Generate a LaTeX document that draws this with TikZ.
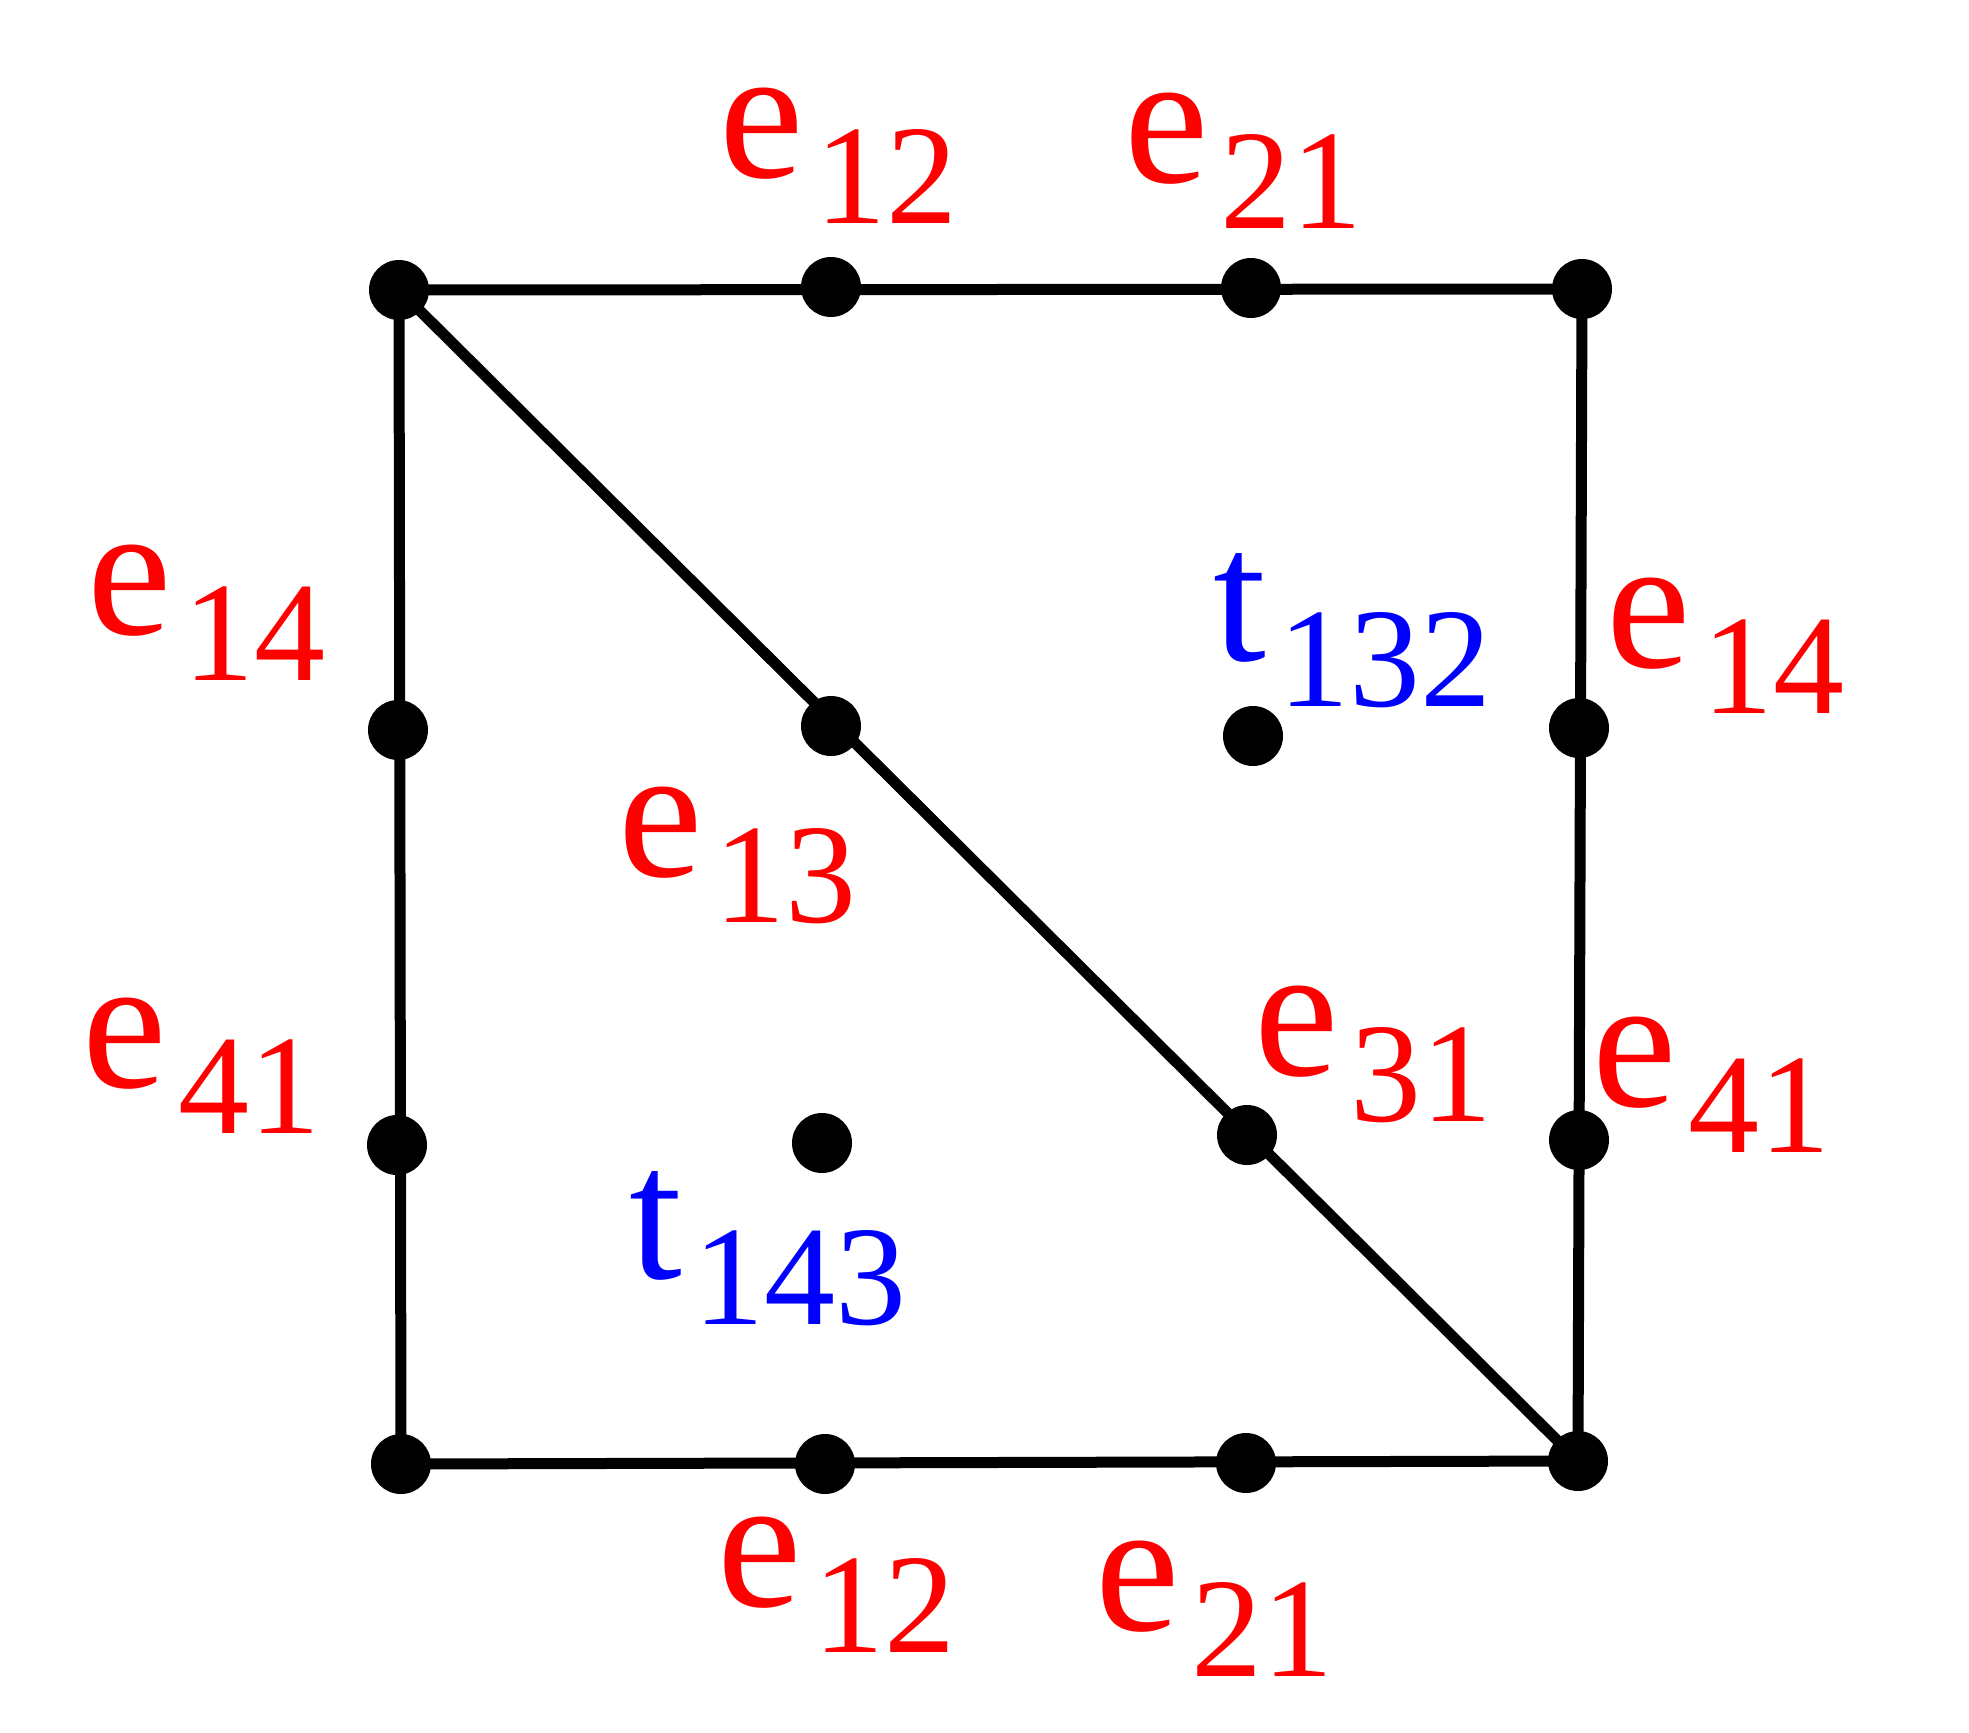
\documentclass[tikz,border=0pt]{standalone}
\usepackage{fontspec}
\setmainfont{Liberation Serif}
\definecolor{lblred}{RGB}{255,0,0}
\definecolor{lblblue}{RGB}{0,0,255}
\newcommand{\lbl}[2]{{\fontsize{190}{190}\selectfont #1}\kern12pt\raisebox{-46pt}{\fontsize{142}{142}\selectfont #2}}
\tikzset{
  edge/.style={line width=11pt, black},
  dotmark/.style={circle, fill=black, minimum size=60pt, inner sep=0pt},
  elabel/.style={anchor=base west, inner sep=0pt, text=lblred},
  tlabel/.style={anchor=base west, inner sep=0pt, text=lblblue},
}
\begin{document}
\begin{tikzpicture}[x=1pt,y=-1pt]
\useasboundingbox (0,0) rectangle (1969,1732);
% corners and mid points
\coordinate (TL) at (399,290);
\coordinate (TR) at (1582,289);
\coordinate (BL) at (401,1464);
\coordinate (BR) at (1578,1461);
\coordinate (T1) at (831,287);
\coordinate (T2) at (1251,288);
\coordinate (L1) at (398,730);
\coordinate (L2) at (397,1145);
\coordinate (R1) at (1579,728);
\coordinate (R2) at (1579,1140);
\coordinate (B1) at (825,1464);
\coordinate (B2) at (1246,1463);
\coordinate (D1) at (831,726);
\coordinate (D2) at (1247,1135);
\coordinate (C1) at (1253,736);
\coordinate (C2) at (822,1143);
% edges
\draw[edge] (TL) -- (TR);
\draw[edge] (BL) -- (BR);
\draw[edge] (TL) -- (BL);
\draw[edge] (TR) -- (BR);
\draw[edge] (TL) -- (BR);
% dots
\foreach \p in {TL,TR,BL,BR,T1,T2,L1,L2,R1,R2,B1,B2,D1,D2,C1,C2}
  \node[dotmark] (dot\p) at (\p) {};
% labels
\node[elabel] (e12t) at (719,177) {\lbl{e}{12}};
\node[elabel] (e21t) at (1124,182) {\lbl{e}{21}};
\node[elabel] (e14l) at (87,634) {\lbl{e}{14}};
\node[tlabel] (t132) at (1213,660) {\lbl{t}{132}};
\node[elabel] (e14r) at (1606,667) {\lbl{e}{14}};
\node[elabel] (e13) at (618,876) {\lbl{e}{13}};
\node[elabel] (e41l) at (82,1087) {\lbl{e}{41}};
\node[elabel] (e31) at (1254,1075) {\lbl{e}{31}};
\node[elabel] (e41r) at (1592,1106) {\lbl{e}{41}};
\node[tlabel] (t143) at (629,1278) {\lbl{t}{143}};
\node[elabel] (e12b) at (717,1606) {\lbl{e}{12}};
\node[elabel] (e21b) at (1095,1630) {\lbl{e}{21}};
\end{tikzpicture}
\end{document}
